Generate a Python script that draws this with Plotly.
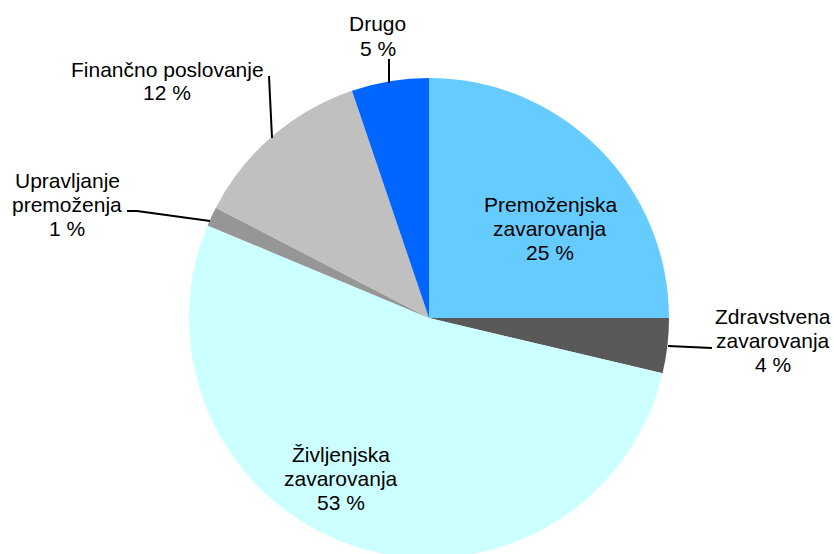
import plotly.graph_objects as go

# ---- data ----
categories = ["Premoženjska zavarovanja", "Zdravstvena zavarovanja", "Življenjska zavarovanja",
              "Upravljanje premoženja", "Finančno poslovanje", "Drugo"]
shares = [25.0, 3.7, 52.6, 1.3, 12.2, 5.2]
label_lines = [["Premoženjska", "zavarovanja"], ["Zdravstvena", "zavarovanja"],
               ["Življenjska", "zavarovanja"], ["Upravljanje", "premoženja"],
               ["Finančno poslovanje"], ["Drugo"]]
colors = ["#66CCFF", "#595959", "#CCFFFF", "#969696", "#C0C0C0", "#0066FF"]

# ---- layout helpers (pixels -> paper) ----
W, H = 834, 560
def px(x):
    return x / W
def py(y):
    return 1 - y / H

# label block anchors: (center x, first line y) in pixels
label_pos = [(550, 204.5), (773, 316), (341, 454), (67, 180.5), (167, 69), (377.5, 24)]
LINE_STEP = 24
FONT = dict(family="Liberation Sans, Arial, sans-serif", size=21, color="#000000")

fig = go.Figure(go.Pie(
    labels=categories,
    values=shares,
    marker=dict(colors=colors, line=dict(width=0)),
    sort=False,
    direction="clockwise",
    rotation=0,
    textinfo="none",
    hoverinfo="label+percent",
    showlegend=False,
    domain=dict(x=[px(189), px(669)], y=[py(558), py(78)]),
))

annotations = []
for lines, v, (cx, cy) in zip(label_lines, shares, label_pos):
    all_lines = lines + [f"{round(v)} %"]
    for i, t in enumerate(all_lines):
        annotations.append(dict(
            x=px(cx), y=py(cy + i * LINE_STEP), xref="paper", yref="paper",
            text=t, showarrow=False, xanchor="center", yanchor="middle", font=FONT,
        ))

leader_paths = [
    [(389, 59), (389, 83)],
    [(269, 76), (272, 138)],
    [(127, 211), (137, 211), (210, 221)],
    [(668, 346), (712, 348)],
]
shapes = []
for pts in leader_paths:
    d = "M " + " L ".join(f"{px(x)},{py(y)}" for x, y in pts)
    shapes.append(dict(type="path", path=d, xref="paper", yref="paper",
                       line=dict(color="#000000", width=2)))

fig.update_layout(
    width=W, height=H,
    margin=dict(l=0, r=0, t=0, b=0),
    paper_bgcolor="#FFFFFF",
    plot_bgcolor="#FFFFFF",
    annotations=annotations,
    shapes=shapes,
)

fig.write_html("out.html", config={"displayModeBar": False},
               post_script="document.body.style.margin='0';document.body.style.overflow='hidden';")
